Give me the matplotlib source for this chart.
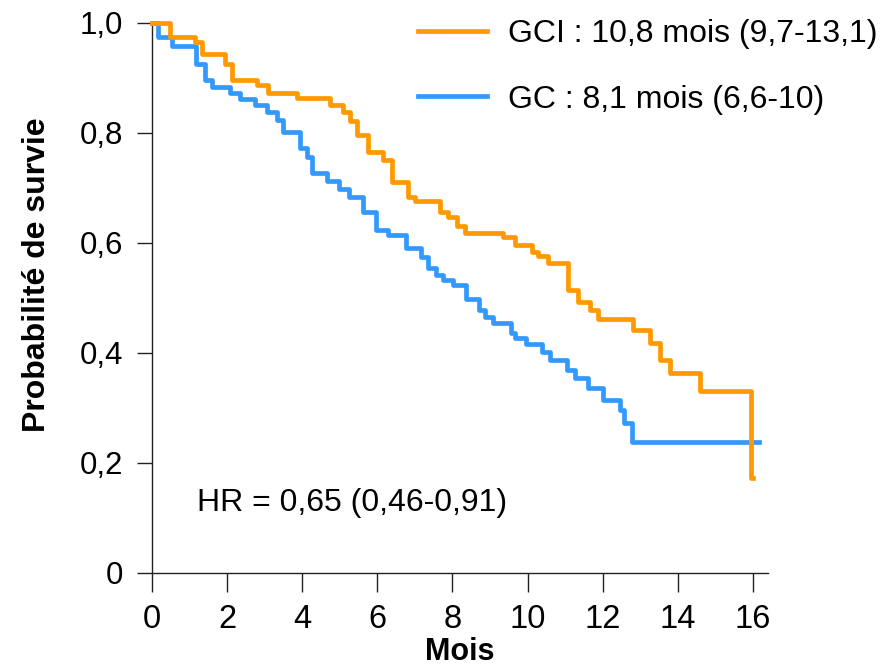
import matplotlib
matplotlib.use('Agg')
import matplotlib.pyplot as plt

plt.rcParams['font.family'] = ['Liberation Sans', 'DejaVu Sans']

# Kaplan-Meier steps (months, survival after the drop)
gci_time = [0.48, 1.14, 1.32, 1.94, 2.12, 2.79, 3.09, 3.85, 4.74, 5.09,
            5.27, 5.45, 5.76, 6.16, 6.38, 6.82, 7.00, 7.67, 7.89, 8.11,
            8.33, 9.35, 9.66, 10.11, 10.28, 10.55, 11.08, 11.35, 11.66, 11.88,
            12.81, 13.26, 13.53, 13.79, 14.59, 15.95]
gci_surv = [0.974, 0.966, 0.944, 0.925, 0.896, 0.887, 0.872, 0.863, 0.851, 0.839,
            0.821, 0.796, 0.766, 0.751, 0.711, 0.684, 0.677, 0.657, 0.647, 0.631,
            0.618, 0.610, 0.596, 0.584, 0.576, 0.563, 0.515, 0.493, 0.479, 0.462,
            0.441, 0.419, 0.387, 0.363, 0.330, 0.172]
gci_end = 16.0

gc_time = [0.17, 0.52, 1.17, 1.41, 1.59, 2.08, 2.34, 2.74, 3.05, 3.32,
           3.50, 3.94, 4.12, 4.25, 4.65, 4.99, 5.25, 5.63, 5.96, 6.29,
           6.76, 7.15, 7.36, 7.56, 7.76, 8.02, 8.36, 8.71, 8.87, 9.07,
           9.55, 9.66, 9.96, 10.38, 10.60, 11.04, 11.26, 11.62, 12.00, 12.46,
           12.57, 12.77]
gc_surv = [0.974, 0.958, 0.925, 0.896, 0.883, 0.872, 0.861, 0.851, 0.839, 0.824,
           0.802, 0.772, 0.757, 0.727, 0.713, 0.699, 0.683, 0.657, 0.624, 0.615,
           0.590, 0.574, 0.554, 0.542, 0.533, 0.524, 0.499, 0.478, 0.466, 0.455,
           0.436, 0.427, 0.416, 0.402, 0.387, 0.369, 0.354, 0.336, 0.315, 0.296,
           0.272, 0.239]
gc_end = 16.15

gci_label = 'GCI : 10,8 mois (9,7-13,1)'
gc_label = 'GC : 8,1 mois (6,6-10)'
hr_text = 'HR = 0,65 (0,46-0,91)'

x_ticks = [0, 2, 4, 6, 8, 10, 12, 14, 16]
y_ticks = [0, 0.2, 0.4, 0.6, 0.8, 1.0]
y_ticklabels = ['0', '0,2', '0,4', '0,6', '0,8', '1,0']

orange = '#ff9900'
blue = '#3399ff'

fig = plt.figure(figsize=(8.94, 6.70), dpi=100)
ax = fig.add_axes([0.170, 0.1448, 0.689, 0.8209])

def km(times, surv, end):
    t = [0] + times + [end]
    s = [1.0] + surv + [surv[-1]]
    return t, s

t, s = km(gc_time, gc_surv, gc_end)
ax.step(t, s, where='post', color=blue, lw=3.4, clip_on=False, label=gc_label, zorder=3)
t, s = km(gci_time, gci_surv, gci_end)
ax.step(t, s, where='post', color=orange, lw=3.4, clip_on=False, label=gci_label, zorder=4)

ax.set_xlim(0, 16.4)
ax.set_ylim(0, 1.0)
ax.set_xticks(x_ticks)
ax.set_yticks(y_ticks)
ax.set_yticklabels(y_ticklabels)
for side in ['top', 'right']:
    ax.spines[side].set_visible(False)
for side in ['left', 'bottom']:
    ax.spines[side].set_linewidth(1.0)
    ax.spines[side].set_color('#222222')
ax.tick_params(axis='x', length=14, width=1.0, pad=8, labelsize=23.5, color='#222222')
ax.tick_params(axis='y', length=11, width=1.0, pad=10, labelsize=22.5, color='#222222')

ax.set_xlabel('Mois', fontsize=22, fontweight='bold', labelpad=2)
ax.set_ylabel('Probabilité de survie', fontsize=23, fontweight='bold')
ax.yaxis.set_label_coords(-0.163, 0.542)

ax.text(1.2, 0.127, hr_text, fontsize=23, ha='left', va='center')

handles, labels = ax.get_legend_handles_labels()
ax.legend(handles[::-1], labels[::-1], loc='upper right',
          bbox_to_anchor=(0.981, 0.971), bbox_transform=fig.transFigure,
          frameon=False, fontsize=23, handlelength=2.17, handletextpad=0.63,
          labelspacing=1.1, borderaxespad=0, borderpad=0)

fig.savefig('out.png', dpi=100)
